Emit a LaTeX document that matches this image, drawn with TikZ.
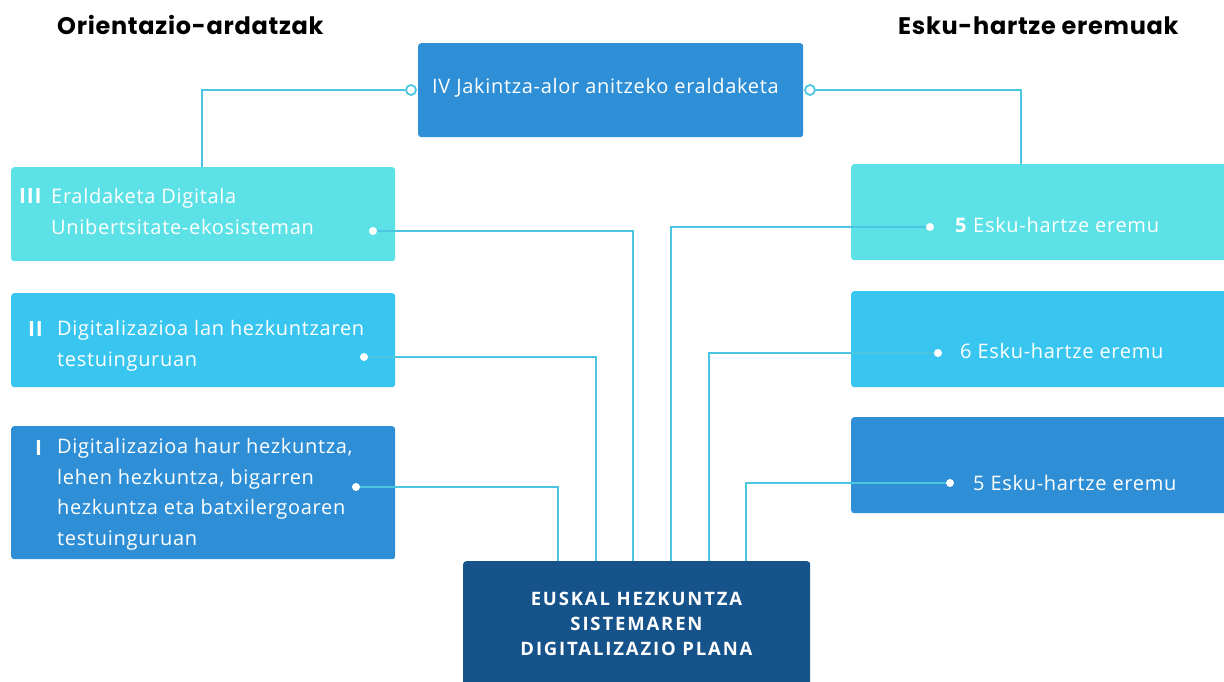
\documentclass[tikz,border=0pt]{standalone}
\usepackage{fontspec}
\setmainfont[LetterSpace=3.5]{Open Sans}
\newfontfamily\headfont[LetterSpace=3]{Poppins}
\newfontfamily\planfont[LetterSpace=10]{Open Sans}
\usetikzlibrary{calc}
\definecolor{turq}{HTML}{5CE1E6}
\definecolor{sky}{HTML}{38C6F0}
\definecolor{midblue}{HTML}{2E8FD6}
\definecolor{deepblue}{HTML}{15538A}
\definecolor{linkcol}{HTML}{4CC6E0}

\begin{document}
\begin{tikzpicture}[x=1pt,y=-1pt,
  box/.style={rounded corners=3pt,anchor=north west,inner sep=0pt},
  label/.style={anchor=base west,text=white,inner sep=0pt,align=left,font=\fontsize{20}{30.5}\selectfont},
  num/.style={anchor=base west,text=white,inner sep=0pt,font=\bfseries\fontsize{21}{22}\selectfont},
  dot/.style={circle,fill=white,inner sep=0pt,minimum size=8pt},
  ring/.style={circle,draw=linkcol,line width=1.8pt,fill=white,inner sep=0pt,minimum size=10pt},
  link/.style={linkcol,line width=2pt},
  heading/.style={anchor=base west,inner sep=0pt,font=\headfont\bfseries\fontsize{24}{28}\selectfont}]
\useasboundingbox (0,0) rectangle (1224,681);

\node[heading] (lefthead) at (57,34) {Orientazio-ardatzak};
\node[heading] (righthead) at (898,34) {Esku-hartze eremuak};

\node[box,fill=midblue,minimum width=385pt,minimum height=94pt] (jak) at (418,43) {};
\node[label] (jaktxt) at (432,93) {IV Jakintza-alor anitzeko eraldaketa};

\node[box,fill=turq,minimum width=384pt,minimum height=94pt] (ax3) at (11,167) {};
\node[box,fill=sky,minimum width=384pt,minimum height=94pt] (ax2) at (11,293) {};
\node[box,fill=midblue,minimum width=384pt,minimum height=133pt] (ax1) at (11,426) {};
\node[num] (n3) at (19,203) {III};
\node[num] (n2) at (28,336) {II};
\node[num] (n1) at (35,455) {I};
\node[label] (ax3txt) at (51,234) {Eraldaketa Digitala\\Unibertsitate-ekosisteman};
\node[label] (ax2txt) at (57,366) {Digitalizazioa lan hezkuntzaren\\testuinguruan};
\node[label] (ax1txt) at (57,545) {Digitalizazioa haur hezkuntza,\\lehen hezkuntza, bigarren\\hezkuntza eta batxilergoaren\\testuinguruan};

\node[box,fill=turq,minimum width=383pt,minimum height=96pt] (er1) at (851,164) {};
\node[box,fill=sky,minimum width=383pt,minimum height=96pt] (er2) at (851,291) {};
\node[box,fill=midblue,minimum width=383pt,minimum height=96pt] (er3) at (851,417) {};
\node[label] (er1txt) at (955,232) {\textbf{5} Esku-hartze eremu};
\node[label] (er2txt) at (960,358) {6 Esku-hartze eremu};
\node[label] (er3txt) at (973,490) {5 Esku-hartze eremu};

\node[box,fill=deepblue,minimum width=347pt,minimum height=130pt] (plan) at (463,561) {};
\node[anchor=north,text=white,inner sep=0pt,align=center,font=\planfont\bfseries\fontsize{18.5}{25}\selectfont] (plantxt) at (636.5,592) {EUSKAL HEZKUNTZA\\SISTEMAREN\\DIGITALIZAZIO PLANA};

\coordinate (d3) at (373,231);
\coordinate (d2) at (364,357);
\coordinate (d1) at (356,487);
\coordinate (e1) at (930,227);
\coordinate (e2) at (938,353);
\coordinate (e3) at (950,483);
\node[ring] (ringL) at (411,90) {};
\node[ring] (ringR) at (810,90) {};

\draw[link] (ringL) -| ($(ax3.north west)+(191,0)$);
\draw[link] (ringR) -| ($(er1.north west)+(170,0)$);
\draw[link] (d1) -| ($(plan.north west)+(95,0)$);
\draw[link] (d2) -| ($(plan.north west)+(133,0)$);
\draw[link] (d3) -| ($(plan.north west)+(170,0)$);
\draw[link] (e1) -| ($(plan.north west)+(208,0)$);
\draw[link] (e2) -| ($(plan.north west)+(246,0)$);
\draw[link] (e3) -| ($(plan.north west)+(283,0)$);

\foreach \p in {d1,d2,d3,e1,e2,e3}
  \node[dot] at (\p) {};
\end{tikzpicture}
\end{document}
